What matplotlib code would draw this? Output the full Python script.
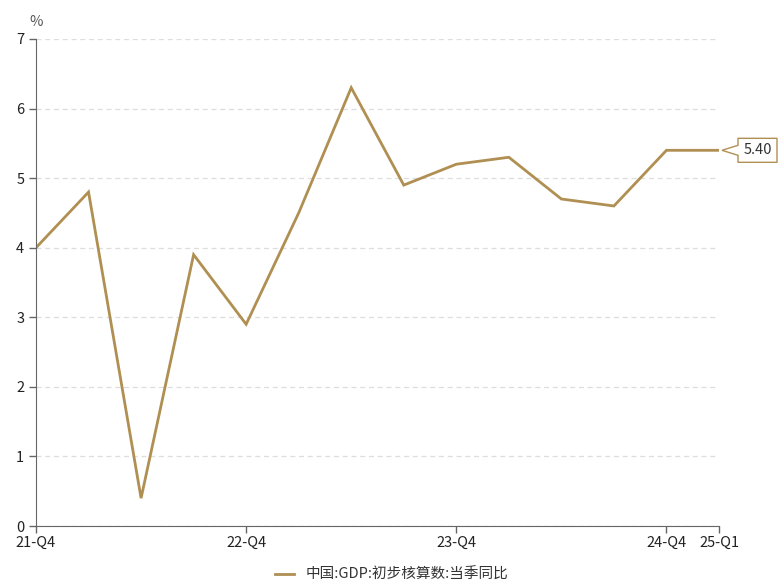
import matplotlib
matplotlib.use('Agg')
import matplotlib.pyplot as plt
from matplotlib.patches import Polygon
from matplotlib.transforms import Affine2D

plt.rcParams['font.family'] = ['Noto Sans CJK SC', 'DejaVu Sans']

# quarterly GDP yoy, 21-Q4 .. 25-Q1
quarters = ['21-Q4', '22-Q1', '22-Q2', '22-Q3', '22-Q4', '23-Q1', '23-Q2',
            '23-Q3', '23-Q4', '24-Q1', '24-Q2', '24-Q3', '24-Q4', '25-Q1']
gdp_yoy = [4.0, 4.8, 0.4, 3.9, 2.9, 4.5, 6.3, 4.9, 5.2, 5.3, 4.7, 4.6, 5.4, 5.4]
tick_labels = ['21-Q4', '22-Q4', '23-Q4', '24-Q4', '25-Q1']
series_name = '中国:GDP:初步核算数:当季同比'

LINE = '#b08f52'
AXC = '#666666'

fig = plt.figure(figsize=(7.84, 5.86), dpi=100)
ax = fig.add_axes([36/784, 60/586, 683/784, 487/586])

x = list(range(len(quarters)))
ax.plot(x, gdp_yoy, color=LINE, lw=2, label=series_name, solid_joinstyle='miter')

ax.set_xlim(0, len(quarters) - 1)
ax.set_ylim(0, 7)
ax.set_yticks(range(0, 8))
ax.set_xticks([quarters.index(t) for t in tick_labels])
ax.set_xticklabels(tick_labels)

ax.grid(axis='y', color='#dddddd', ls=(0, (4, 3)), lw=0.9)
ax.set_axisbelow(True)
for s in ['top', 'right']:
    ax.spines[s].set_visible(False)
ax.spines['left'].set_color(AXC)
ax.spines['bottom'].set_color(AXC)
ax.tick_params(axis='both', colors=AXC, labelcolor='#222222', labelsize=10.5,
               length=5, width=1)
ax.tick_params(axis='x', pad=2)

ax.text(0, 1.02, '%', transform=ax.transAxes, fontsize=10.5, color='#555555',
        ha='center', va='bottom')

# end value callout (box with a pointer), drawn in pixel units
last = gdp_yoy[-1]
px, py = ax.transData.transform((x[-1], last))
shape = [(3, 0), (19, 5), (19, 12), (58, 12), (58, -12), (19, -12), (19, -5)]
callout = Polygon(shape, closed=True, fc='white', ec=LINE, lw=1,
                  transform=Affine2D().translate(px, py), clip_on=False,
                  zorder=5)
fig.patches.append(callout)
fig.text((px + 38.5) / 784, py / 586, f'{last:.2f}', ha='center', va='center',
         fontsize=10.5, color='#333333', zorder=6)

fig.legend(loc='lower center', bbox_to_anchor=(0.5, -0.015), frameon=False,
           fontsize=10.5, handlelength=1.3, labelcolor='#333333')

fig.savefig('out.png', dpi=100)
